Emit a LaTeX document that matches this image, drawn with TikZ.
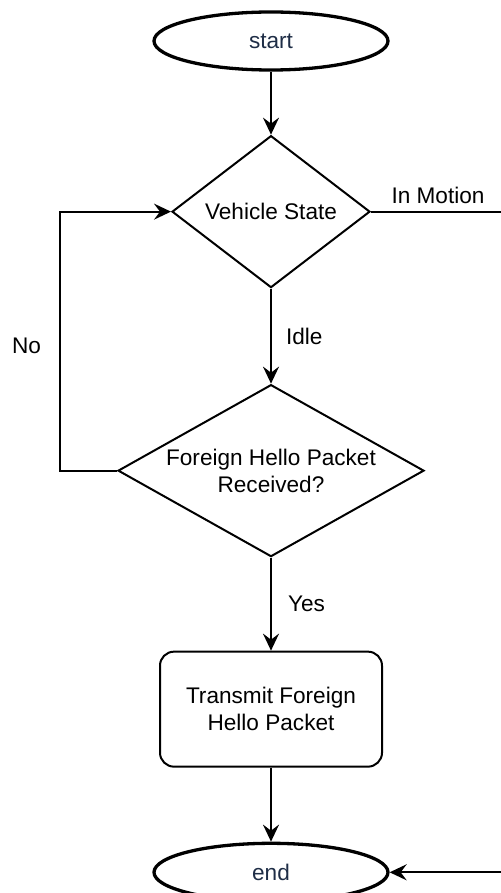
\documentclass[tikz,border=0pt]{standalone}
\usepackage{fontspec}
\setmainfont{Liberation Sans}
\usepackage{xcolor}
\usetikzlibrary{arrows.meta, positioning, shapes.geometric}

\definecolor{termtext}{RGB}{30,45,70}

\begin{document}
\begin{tikzpicture}[
    x=0.5pt, y=-0.5pt,
    every node/.style={font=\fontsize{11.3}{13.5}\selectfont},
    terminal/.style={ellipse, draw, line width=1.65pt, minimum width=117pt, minimum height=29pt, text=termtext},
    decision/.style={diamond, draw, line width=1pt, inner sep=0pt, align=center},
    process/.style={rectangle, draw, rounded corners=7pt, line width=1pt, minimum width=111pt, minimum height=57.5pt, align=center},
    arrow/.style={-{Stealth[length=8.5pt, width=8pt, inset=3pt]}, line width=1pt},
    edgelabel/.style={inner sep=0pt},
]
    \useasboundingbox (0,0) rectangle (500,893);

    \node[terminal] (start) at (271,41) {start};
    \node[decision, aspect=1.3, minimum width=99pt, minimum height=76pt, below=31.5pt of start] (state) {Vehicle State};
    \node[decision, aspect=1.78, minimum width=153pt, minimum height=86pt, below=47.5pt of state] (hello) {Foreign Hello Packet\\Received?};
    \node[process, below=46.5pt of hello] (transmit) {Transmit Foreign\\Hello Packet};
    \node[terminal, below=37pt of transmit] (stop) {end};

    \draw[arrow] (start) -- (state);
    \draw[arrow] (state) -- node[edgelabel, right=7pt] (idle) {Idle} (hello);
    \draw[arrow] (hello) -- node[edgelabel, right=8pt] (yes) {Yes} (transmit);
    \draw[arrow] (transmit) -- (stop);
    \draw[arrow] (hello.west) -- ++(-57,0) |- node[edgelabel, pos=0.24, left=9pt] (no) {No} (state.west);
    \draw[arrow] (state.east) -- node[edgelabel, above=3.5pt] (motion) {In Motion} ++(134,0) |- (stop.east);
\end{tikzpicture}
\end{document}
